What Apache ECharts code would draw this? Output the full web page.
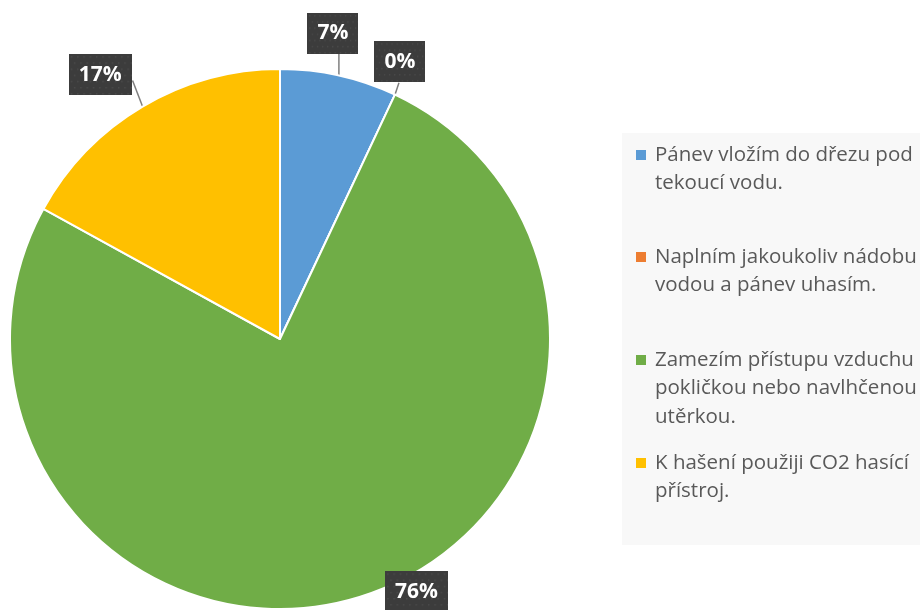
<!DOCTYPE html>
<html>
<head>
<meta charset="utf-8">
<script src="https://cdn.jsdelivr.net/npm/echarts@6/dist/echarts.min.js"></script>
<style>
  html, body { margin: 0; padding: 0; background: #fff; }
  #chart { width: 920px; height: 610px; }
</style>
</head>
<body>
<div id="chart"></div>
<script>
// data
const categories = [
  "Pánev vložím do dřezu pod tekoucí vodu.",
  "Naplním jakoukoliv nádobu vodou a pánev uhasím.",
  "Zamezím přístupu vzduchu pokličkou nebo navlhčenou utěrkou.",
  "K hašení použiji CO2 hasící přístroj."
];
const legendLines = [
  ["Pánev vložím do dřezu pod", "tekoucí vodu."],
  ["Naplním jakoukoliv nádobu", "vodou a pánev uhasím."],
  ["Zamezím přístupu vzduchu", "pokličkou nebo navlhčenou", "utěrkou."],
  ["K hašení použiji CO2 hasící", "přístroj."]
];
const percents = [7, 0, 76, 17];

const colors = ["#5b9bd5", "#ed7d31", "#70ad47", "#ffc000"];

// label box centre relative to the slice edge point, and leader line end
const labelOffset = [[-6, -42], [5, -33], [53, -4], [-11, -32]];
const lineEnd = [[0, -22], [4, -12], [0, 0], [-10, -26]];

// dotted dark texture for the data label boxes
const tex = document.createElement("canvas");
tex.width = 60; tex.height = 40;
const tc = tex.getContext("2d");
tc.fillStyle = "#3c3c3c";
tc.fillRect(0, 0, 60, 40);
tc.fillStyle = "#4a4a4a";
for (let y = 2; y < 40; y += 6) {
  for (let x = (y % 12 === 2 ? 2 : 5); x < 60; x += 6) {
    tc.fillRect(x, y, 1.5, 1.5);
  }
}

const lineH = 28.5;
const legendCenters = [155, 257, 360, 463];

// square icon sitting on the first text line
function iconFor(n) {
  const h = n * lineH;
  const a = lineH / 2 - 5;
  return "path://M0,0L0.01,0M0," + a + "L10," + a + "L10," + (a + 10) + "L0," + (a + 10) +
    "ZM13.99," + h + "L14," + h;
}

const legends = categories.map((name, i) => {
  const n = legendLines[i].length;
  return {
    data: [name],
    left: 636,
    top: legendCenters[i] - lineH / 2,
    orient: "vertical",
    icon: iconFor(n),
    itemWidth: 14,
    itemHeight: n * lineH,
    itemStyle: { borderWidth: 0 },
    padding: 0,
    formatter: () => legendLines[i].join("\n"),
    textStyle: {
      fontFamily: "Open Sans",
      fontSize: 20.5,
      color: "#595959",
      lineHeight: lineH
    }
  };
});

function placeLabel(p) {
  if (!p.labelLinePoints) return {};
  const edge = p.labelLinePoints[0];
  const off = labelOffset[p.dataIndex];
  const end = lineEnd[p.dataIndex];
  const r = p.labelRect;
  return {
    dx: edge[0] + off[0] - (r.x + r.width / 2),
    dy: edge[1] + off[1] - (r.y + r.height / 2),
    labelLinePoints: [
      [edge[0], edge[1]],
      [edge[0] + end[0], edge[1] + end[1]]
    ]
  };
}

const chart = echarts.init(document.getElementById("chart"));
chart.setOption({
  animation: false,
  color: colors,
  graphic: [{
    type: "rect",
    z: -10,
    shape: { x: 622, y: 133, width: 298, height: 412 },
    style: { fill: "#f8f8f8" }
  }],
  legend: legends,
  series: [{
    type: "pie",
    center: [280, 339],
    radius: 270,
    startAngle: 90,
    clockwise: true,
    stillShowZeroSum: true,
    itemStyle: { borderColor: "#fff", borderWidth: 2 },
    label: {
      show: true,
      position: "outside",
      formatter: p => p.value + "%",
      color: "#fff",
      fontFamily: "Open Sans",
      fontWeight: "bold",
      fontSize: 21,
      lineHeight: 25,
      padding: [8, 10, 8, 10],
      backgroundColor: { image: tex },
      shadowColor: "rgba(0,0,0,0.45)",
      shadowBlur: 6,
      shadowOffsetX: 3,
      shadowOffsetY: 3
    },
    labelLine: {
      show: true,
      length: 18,
      length2: 0,
      lineStyle: { color: "#7f7f7f", width: 1.5 }
    },
    labelLayout: placeLabel,
    emphasis: { disabled: true },
    data: categories.map((name, i) => ({ name: name, value: percents[i] }))
  }]
});
</script>
</body>
</html>
